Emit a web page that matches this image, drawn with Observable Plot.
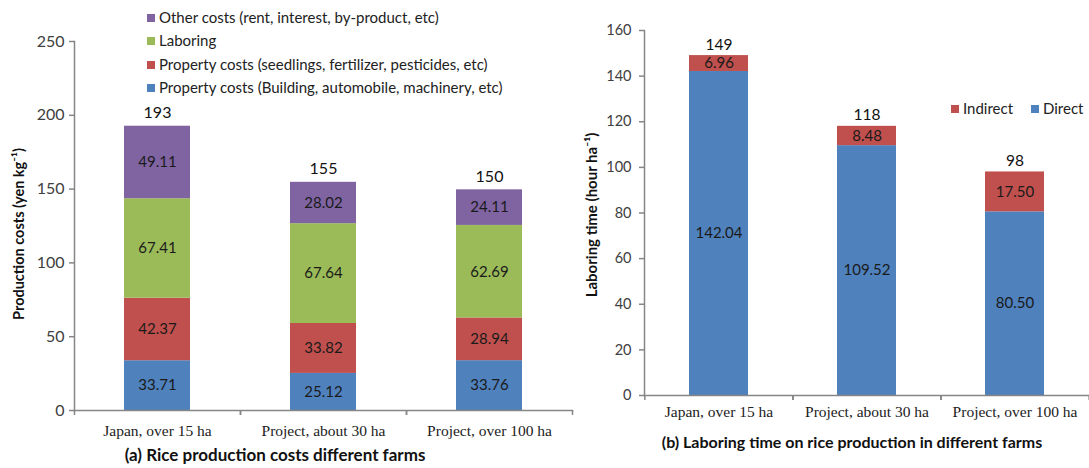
<!DOCTYPE html>
<html>
<head>
<meta charset="utf-8">
<script src="https://cdn.jsdelivr.net/npm/d3@7"></script>
<script src="https://cdn.jsdelivr.net/npm/@observablehq/plot@0.6"></script>
<style>
  html, body { margin: 0; padding: 0; background: #fff; }
  #wrap { position: relative; width: 1089px; height: 468px; overflow: hidden; background: #fff; font-family: Lato, "Open Sans", sans-serif; }
  .abs { position: absolute; }
  .leg { position: absolute; display: flex; align-items: center; font-size: 15px; color: #222; white-space: nowrap; line-height: 1; }
  .sw { width: 8px; height: 8px; margin-right: 4px; flex: none; }
  .cap { position: absolute; font-weight: bold; font-size: 17px; color: #111; white-space: nowrap; transform: translateX(-50%); line-height: 1; }
</style>
</head>
<body>
<div id="wrap">
  <div id="left" class="abs" style="left:0;top:0"></div>
  <div id="right" class="abs" style="left:565px;top:0"></div>
  <div id="legA"></div>
  <div id="legB"></div>
  <div class="cap" id="capA" style="left:275px;top:446px">(a) Rice production costs different farms</div>
  <div class="cap" id="capB" style="left:852px;top:434px;font-size:16px">(b) Laboring time on rice production in different farms</div>
</div>
<script>
// ---- data ----
const farms = ["Japan, over 15 ha", "Project, about 30 ha", "Project, over 100 ha"];

const costSeries = [
  "Property costs (Building, automobile, machinery, etc)",
  "Property costs (seedlings, fertilizer, pesticides, etc)",
  "Laboring",
  "Other costs (rent, interest, by-product, etc)"
];
const costBuilding = [33.71, 25.12, 33.76];
const costSeedlings = [42.37, 33.82, 28.94];
const costLaboring = [67.41, 67.64, 62.69];
const costOther = [49.11, 28.02, 24.11];
const costTotals = [193, 155, 150];
const costTicks = [0, 50, 100, 150, 200, 250];

const timeSeries = ["Direct", "Indirect"];
const timeDirect = [142.04, 109.52, 80.50];
const timeIndirect = [6.96, 8.48, 17.50];
const timeTotals = [149, 118, 98];
const timeTicks = [0, 20, 40, 60, 80, 100, 120, 140, 160];

const costColors = ["#4F81BD", "#C0504D", "#9BBB59", "#8064A2"];
const timeColors = ["#4F81BD", "#C0504D"];

// ---- tables ----
const costValues = [costBuilding, costSeedlings, costLaboring, costOther];
const costRows = [];
costSeries.forEach((s, i) => farms.forEach((f, j) => costRows.push({farm: f, series: s, value: costValues[i][j]})));
const costTot = farms.map((f, j) => ({farm: f, total: costTotals[j], top: d3.sum(costValues, v => v[j])}));

const timeValues = [timeDirect, timeIndirect];
const timeRows = [];
timeSeries.forEach((s, i) => farms.forEach((f, j) => timeRows.push({farm: f, series: s, value: timeValues[i][j]})));
const timeTot = farms.map((f, j) => ({farm: f, total: timeTotals[j], top: d3.sum(timeValues, v => v[j])}));

const axisGray = "#868686";
const tickText = "#404040";

// ---- left chart ----
const leftW = 580, leftML = 74, leftMR = 8;
const stepA = (leftW - leftML - leftMR) / farms.length;
const left = Plot.plot({
  width: leftW, height: 440,
  marginLeft: leftML, marginRight: leftMR, marginTop: 41, marginBottom: 30,
  style: {fontFamily: "Lato, sans-serif", background: "transparent", overflow: "visible"},
  x: {domain: farms, paddingInner: 0.6, paddingOuter: 0.3, label: null},
  y: {domain: [0, 250], label: null},
  color: {domain: costSeries, range: costColors},
  marks: [
    Plot.barY(costRows, {x: "farm", y: "value", fill: "series"}),
    Plot.text(costRows, Plot.stackY({x: "farm", y: "value", text: d => d.value.toFixed(2), fontSize: 15, fill: "#1a1a1a"})),
    Plot.text(costTot, {x: "farm", y: "top", text: d => String(d.total), lineAnchor: "bottom", dy: -8, fontSize: 16, fill: "#111"}),
    Plot.axisY({ticks: costTicks, tickSize: 5, tickPadding: 5, fontSize: 16, stroke: axisGray, fill: tickText, strokeWidth: 1.5}),
    Plot.axisX({tickSize: 0, tickPadding: 14, fontSize: 15.5, fontFamily: "Liberation Serif, serif", fill: "#222"}),
    Plot.axisX({tickSize: 5, tickFormat: () => "", dx: -stepA / 2, stroke: axisGray, strokeWidth: 1.5}),
    Plot.axisX({tickSize: 5, tickFormat: () => "", dx: stepA / 2, stroke: axisGray, strokeWidth: 1.5}),
    Plot.frame({anchor: "left", stroke: axisGray, strokeWidth: 1.5}),
    Plot.frame({anchor: "bottom", stroke: axisGray, strokeWidth: 1.5}),
    Plot.text(["Production costs (yen kg⁻¹)"], {frameAnchor: "left", textAnchor: "middle", rotate: -90, dx: -55, dy: 8, fontSize: 14.5, fontWeight: "bold", fill: "#111"})
  ]
});
document.getElementById("left").appendChild(left);

// ---- right chart ----
const rightW = 524, rightML = 79, rightMR = 0;
const stepB = (rightW - rightML - rightMR) / farms.length;
const right = Plot.plot({
  width: rightW, height: 420,
  marginLeft: rightML, marginRight: rightMR, marginTop: 30, marginBottom: 25,
  style: {fontFamily: "Lato, sans-serif", background: "transparent", overflow: "visible"},
  x: {domain: farms, paddingInner: 0.6, paddingOuter: 0.3, label: null},
  y: {domain: [0, 160], label: null},
  color: {domain: timeSeries, range: timeColors},
  marks: [
    Plot.barY(timeRows, {x: "farm", y: "value", fill: "series"}),
    Plot.text(timeRows, Plot.stackY({x: "farm", y: "value", text: d => d.value.toFixed(2), fontSize: 15, fill: "#1a1a1a"})),
    Plot.text(timeTot, {x: "farm", y: "top", text: d => String(d.total), lineAnchor: "bottom", dy: -6, fontSize: 15.5, fill: "#111"}),
    Plot.axisY({ticks: timeTicks, tickSize: 5, tickPadding: 8, fontSize: 14.5, stroke: axisGray, fill: tickText, strokeWidth: 1.5}),
    Plot.axisX({tickSize: 0, tickPadding: 10, fontSize: 15.5, fontFamily: "Liberation Serif, serif", fill: "#222"}),
    Plot.axisX({tickSize: 5, tickFormat: () => "", dx: -stepB / 2, stroke: axisGray, strokeWidth: 1.5}),
    Plot.axisX({tickSize: 5, tickFormat: () => "", dx: stepB / 2, stroke: axisGray, strokeWidth: 1.5}),
    Plot.frame({anchor: "left", stroke: axisGray, strokeWidth: 1.5}),
    Plot.frame({anchor: "bottom", stroke: axisGray, strokeWidth: 1.5}),
    Plot.text(["Laboring time (hour ha⁻¹)"], {frameAnchor: "left", textAnchor: "middle", rotate: -90, dx: -52, dy: 2, fontSize: 15, fontWeight: "bold", fill: "#111"})
  ]
});
document.getElementById("right").appendChild(right);

// ---- legends ----
const legA = document.getElementById("legA");
const legendOrder = [3, 2, 1, 0];
const legTops = [10, 33, 57, 80];
legendOrder.forEach((k, i) => {
  const row = document.createElement("div");
  row.className = "leg";
  row.style.left = "147px";
  row.style.top = legTops[i] + "px";
  row.innerHTML = `<span class="sw" style="background:${costColors[k]}"></span><span>${costSeries[k]}</span>`;
  legA.appendChild(row);
});
const legB = document.getElementById("legB");
[[1, 951], [0, 1031]].forEach(([k, x]) => {
  const row = document.createElement("div");
  row.className = "leg";
  row.style.left = x + "px";
  row.style.top = "101px";
  row.innerHTML = `<span class="sw" style="background:${timeColors[k]}"></span><span>${timeSeries[k]}</span>`;
  legB.appendChild(row);
});
</script>
</body>
</html>
